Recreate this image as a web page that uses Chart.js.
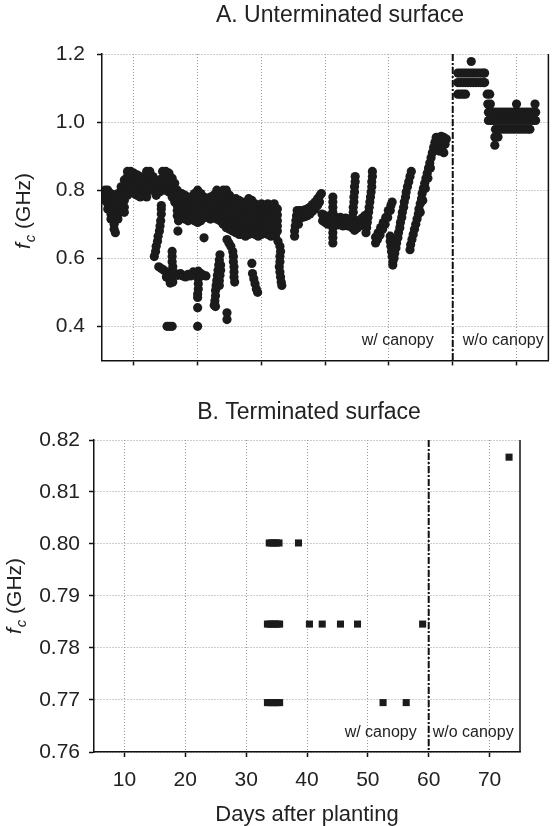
<!DOCTYPE html>
<html>
<head>
<meta charset="utf-8">
<script src="https://cdn.jsdelivr.net/npm/chart.js@4.4.0/dist/chart.umd.min.js"></script>
<style>
  html, body { margin: 0; padding: 0; background: #fff; }
  #wrap { position: relative; width: 553px; height: 826px; }
  .panel { position: absolute; left: 0; width: 553px; }
  #top-panel { top: 0; height: 385px; }
  #bottom-panel { top: 385px; height: 441px; }
</style>
</head>
<body>
<div id="wrap">
  <div class="panel" id="top-panel"><canvas id="unterminated-chart"></canvas></div>
  <div class="panel" id="bottom-panel"><canvas id="terminated-chart"></canvas></div>
</div>
<script>
// tick labels
const dayTicks = [10, 20, 30, 40, 50, 60, 70];
const topFcTicks = [0.4, 0.6, 0.8, 1.0, 1.2];
const termFcTicks = [0.76, 0.77, 0.78, 0.79, 0.80, 0.81, 0.82];
const splitDay = 60; // canopy removed

// A. unterminated, columns of [day, [fc ...]]
const topEarlyCols = [
  [5.5, [0.80, 0.785, 0.77]],
  [5.9, [0.80, 0.78, 0.76, 0.745]],
  [6.4, [0.79, 0.77, 0.75, 0.73, 0.715]],
  [6.9, [0.78, 0.76, 0.74, 0.72, 0.70, 0.685]],
  [7.1, [0.675]],
  [7.5, [0.79, 0.77, 0.75, 0.73, 0.715]],
  [8.0, [0.81, 0.79, 0.77, 0.75, 0.74]],
  [8.5, [0.83, 0.81, 0.79, 0.77, 0.75, 0.735]],
  [9.0, [0.855, 0.84, 0.82, 0.80, 0.785]],
  [9.5, [0.855, 0.84, 0.82, 0.80]],
  [10.0, [0.85, 0.83, 0.81, 0.79]],
  [10.5, [0.845, 0.825, 0.805, 0.785]],
  [11.0, [0.84, 0.82, 0.80, 0.78]],
  [11.5, [0.835, 0.815, 0.80]],
  [12.0, [0.855, 0.835, 0.815, 0.795, 0.78]],
  [12.5, [0.855, 0.835, 0.815, 0.80]],
  [13.0, [0.84, 0.82, 0.80]],
  [13.5, [0.82, 0.80, 0.785]],
  [14.0, [0.83, 0.81, 0.795]],
  [14.5, [0.855, 0.835, 0.815, 0.80]],
  [15.0, [0.855, 0.835, 0.815, 0.80]],
  [15.5, [0.85, 0.83, 0.81, 0.795]],
  [16.0, [0.835, 0.815, 0.795, 0.78]],
  [16.4, [0.82, 0.80, 0.78, 0.765]],
  [16.8, [0.80, 0.785, 0.77, 0.755, 0.74, 0.725]],
  [17.0, [0.71]],
  [16.9, [0.68]]
];

const topMidCols = [
  [17.5, [0.79, 0.772, 0.754, 0.737, 0.72]],
  [18.0, [0.785, 0.765, 0.745, 0.728, 0.715]],
  [18.5, [0.78, 0.76, 0.742, 0.725, 0.71]],
  [19.0, [0.78, 0.762, 0.745, 0.73, 0.72]],
  [19.5, [0.79, 0.77, 0.75, 0.73, 0.71]],
  [20.0, [0.80, 0.78, 0.76, 0.74, 0.722, 0.705]],
  [20.5, [0.79, 0.77, 0.75, 0.73, 0.71]],
  [21.0, [0.78, 0.76, 0.74, 0.72]],
  [21.5, [0.775, 0.757, 0.738, 0.72]],
  [22.0, [0.78, 0.76, 0.74, 0.725, 0.715]],
  [22.5, [0.785, 0.765, 0.745, 0.73, 0.72]],
  [23.0, [0.80, 0.78, 0.76, 0.74, 0.725, 0.715]],
  [23.5, [0.79, 0.77, 0.75, 0.73, 0.71]],
  [24.0, [0.80, 0.78, 0.76, 0.74, 0.72, 0.70]],
  [24.5, [0.80, 0.78, 0.76, 0.74, 0.72, 0.705, 0.69]],
  [25.0, [0.785, 0.765, 0.745, 0.725, 0.705, 0.685]],
  [25.5, [0.77, 0.75, 0.73, 0.71, 0.695, 0.68]],
  [26.0, [0.775, 0.755, 0.735, 0.715, 0.695, 0.675]],
  [26.5, [0.77, 0.75, 0.73, 0.71, 0.69, 0.67]],
  [27.0, [0.765, 0.745, 0.725, 0.705, 0.687, 0.67]],
  [27.5, [0.76, 0.742, 0.722, 0.702, 0.683, 0.665]],
  [28.0, [0.775, 0.755, 0.735, 0.715, 0.69, 0.67]],
  [28.5, [0.77, 0.75, 0.73, 0.71, 0.69, 0.675]],
  [29.0, [0.76, 0.74, 0.72, 0.70, 0.685, 0.67]],
  [29.5, [0.755, 0.737, 0.718, 0.70, 0.682, 0.665]],
  [30.0, [0.76, 0.74, 0.72, 0.70, 0.685, 0.67]],
  [30.5, [0.755, 0.737, 0.718, 0.70, 0.687, 0.675]],
  [31.0, [0.76, 0.74, 0.72, 0.70, 0.685, 0.67]],
  [31.5, [0.755, 0.737, 0.718, 0.70, 0.682, 0.665]],
  [32.0, [0.76, 0.74, 0.72, 0.70, 0.685, 0.67]],
  [32.5, [0.745, 0.727, 0.71, 0.695, 0.68]]
];

// low strings and stray points, [day, fc]
const topLowPairs = [
  [13.2, 0.605], [13.4, 0.62], [13.5, 0.635], [13.7, 0.65], [13.8, 0.665], [14.0, 0.68],
  [14.1, 0.695], [14.2, 0.71], [14.3, 0.73], [14.3, 0.745], [14.3, 0.755],
  [13.9, 0.575], [14.3, 0.57], [14.7, 0.565], [15.1, 0.56], [15.1, 0.545], [15.5, 0.555],
  [15.5, 0.54], [15.7, 0.527], [16.0, 0.62], [16.0, 0.605], [16.0, 0.59], [16.1, 0.575],
  [16.1, 0.56], [16.1, 0.545], [16.1, 0.53], [16.5, 0.555], [16.9, 0.55], [17.3, 0.555],
  [17.7, 0.548], [18.1, 0.545], [18.5, 0.553], [18.9, 0.548], [19.3, 0.56], [19.7, 0.555],
  [20.1, 0.562], [20.5, 0.555], [20.9, 0.55], [21.3, 0.548],
  [20.1, 0.54], [20.1, 0.525], [20.1, 0.51], [20.0, 0.495], [20.0, 0.485], [20.0, 0.455], [20.0, 0.40],
  [15.2, 0.40], [15.6, 0.40], [16.0, 0.40], [21.0, 0.66],
  [23.5, 0.61], [23.4, 0.595], [23.3, 0.58], [23.2, 0.565], [23.1, 0.55], [23.0, 0.535],
  [22.9, 0.52], [22.8, 0.505], [22.8, 0.49], [22.7, 0.475], [22.6, 0.462], [22.8, 0.458],
  [23.6, 0.58], [23.6, 0.565], [23.5, 0.55], [23.4, 0.535], [23.4, 0.52],
  [24.6, 0.44], [24.6, 0.42],
  [24.6, 0.655], [24.9, 0.645], [25.2, 0.635], [25.5, 0.62], [25.6, 0.605], [25.6, 0.59],
  [25.7, 0.575], [25.7, 0.56], [25.7, 0.545], [25.8, 0.53],
  [28.5, 0.585], [28.6, 0.555], [28.8, 0.54], [29.0, 0.525], [29.2, 0.51], [29.4, 0.50],
  [32.2, 0.665], [32.6, 0.65], [32.9, 0.635], [33.0, 0.62], [32.9, 0.605], [32.9, 0.59],
  [32.8, 0.575], [32.9, 0.56], [33.0, 0.545], [33.1, 0.53], [33.2, 0.52]
];

// days 35-60, [day, fc]
const topLatePairs = [
  [35.2, 0.665], [35.2, 0.68], [35.3, 0.695], [35.4, 0.71], [35.5, 0.725], [35.6, 0.74],
  [35.8, 0.70], [35.9, 0.72], [36.0, 0.74], [36.4, 0.72], [36.4, 0.74], [36.8, 0.722],
  [36.8, 0.742], [37.2, 0.725], [37.2, 0.745], [37.6, 0.73], [37.6, 0.75], [38.0, 0.738],
  [38.0, 0.758], [38.4, 0.745], [38.4, 0.765], [38.8, 0.755], [38.8, 0.775], [39.1, 0.765],
  [39.2, 0.785], [39.4, 0.79],
  [39.5, 0.73], [39.6, 0.71], [40.0, 0.725], [40.0, 0.705], [40.4, 0.722], [40.4, 0.70],
  [40.8, 0.725], [40.8, 0.705], [41.6, 0.72], [41.6, 0.70], [42.0, 0.718], [42.0, 0.698],
  [42.4, 0.72], [42.4, 0.70], [42.8, 0.715], [42.8, 0.695], [43.2, 0.718], [43.2, 0.698],
  [43.6, 0.715], [43.6, 0.695], [44.0, 0.71],
  [41.2, 0.78], [41.2, 0.765], [41.2, 0.75], [41.2, 0.735], [41.2, 0.72], [41.2, 0.705],
  [41.2, 0.69], [41.2, 0.675], [41.2, 0.66], [41.2, 0.645],
  [44.7, 0.84], [44.7, 0.825], [44.6, 0.81], [44.6, 0.795], [44.5, 0.78], [44.5, 0.765],
  [44.4, 0.75], [44.4, 0.735], [44.3, 0.72], [44.2, 0.705], [44.2, 0.69],
  [44.6, 0.682], [45.0, 0.688], [45.0, 0.705], [45.4, 0.695], [45.4, 0.712], [45.8, 0.70],
  [45.8, 0.718], [46.2, 0.708], [46.2, 0.725],
  [46.4, 0.675], [46.5, 0.69], [46.6, 0.705], [46.7, 0.72], [46.8, 0.735], [46.9, 0.75],
  [47.0, 0.765], [47.1, 0.78], [47.2, 0.795], [47.3, 0.81], [47.3, 0.825], [47.4, 0.84], [47.4, 0.855],
  [47.9, 0.645], [47.9, 0.662], [48.2, 0.655], [48.3, 0.675], [48.6, 0.668], [48.7, 0.69],
  [49.0, 0.685], [49.1, 0.705], [49.4, 0.70], [49.5, 0.72], [49.8, 0.72], [49.9, 0.74],
  [50.2, 0.74], [50.3, 0.755], [50.5, 0.765],
  [50.2, 0.665], [50.2, 0.65], [50.3, 0.635], [50.4, 0.62], [50.5, 0.605], [50.6, 0.59], [50.6, 0.58],
  [50.8, 0.60], [50.9, 0.615], [51.1, 0.63], [51.2, 0.645], [51.4, 0.66], [51.5, 0.675],
  [51.7, 0.69], [51.8, 0.705], [52.0, 0.72], [52.1, 0.735], [52.3, 0.75], [52.4, 0.765],
  [52.6, 0.78], [52.7, 0.795], [52.9, 0.81], [53.1, 0.825], [53.3, 0.84], [53.5, 0.855],
  [53.3, 0.625], [53.4, 0.64], [53.6, 0.655], [53.8, 0.67], [54.0, 0.685], [54.2, 0.70],
  [54.4, 0.715], [54.6, 0.73], [54.7, 0.745], [54.9, 0.76], [55.1, 0.775], [55.2, 0.79],
  [55.4, 0.805], [55.6, 0.82], [55.8, 0.835], [56.0, 0.85], [56.2, 0.865], [56.4, 0.88],
  [56.6, 0.895], [56.8, 0.91], [57.0, 0.925], [57.2, 0.94], [57.4, 0.955],
  [54.9, 0.735], [55.3, 0.77], [55.7, 0.805], [56.1, 0.835], [56.5, 0.865],
  [57.8, 0.955], [58.2, 0.958], [58.6, 0.955], [59.0, 0.95], [57.6, 0.935], [58.0, 0.935],
  [58.4, 0.938], [58.8, 0.935], [57.9, 0.915], [58.3, 0.918], [58.6, 0.91]
];

// after day 60, rows of [fc, [days ...]]
const topBareRows = [
  [1.178, [62.9]],
  [1.144, [60.8, 61.2, 61.6, 62.0, 62.4, 62.8, 63.2, 63.6, 64.0, 64.4, 64.8, 65.0]],
  [1.116, [60.8, 61.2, 61.6, 62.0, 62.4, 62.8, 63.2, 63.6, 64.0, 64.4, 64.8, 65.0]],
  [1.082, [60.8, 61.2, 61.6, 62.0, 65.4, 65.8]],
  [1.053, [65.5, 65.9, 70.0, 72.9]],
  [1.029, [65.6, 66.0, 66.5, 67.0, 67.5, 68.0, 68.5, 69.0, 69.5, 70.0, 70.5, 71.0, 71.5, 72.0, 72.5, 73.0]],
  [1.005, [65.6, 66.0, 66.5, 67.0, 67.5, 68.0, 68.5, 69.0, 69.5, 70.0, 70.5, 71.0, 71.5, 72.0, 72.5, 73.0]],
  [0.979, [66.7, 67.2, 67.7, 68.2, 68.7, 69.2, 69.7, 70.2, 70.7, 71.2, 71.7, 72.1]],
  [0.956, [66.6, 67.1]],
  [0.932, [66.6]]
];

// B. terminated, rows of [fc, [days ...]]
const termRows = [
  [0.8167, [73.2]],
  [0.8002, [33.8, 34.2, 34.6, 35.0, 35.4, 38.6]],
  [0.7846, [33.5, 33.9, 34.3, 34.7, 35.1, 35.5, 40.4, 42.5, 45.5, 48.3, 59.0]],
  [0.7695, [33.5, 33.9, 34.3, 34.7, 35.1, 35.5, 52.5, 56.3]]
];

function fromCols(cols) {
  let pts = [];
  cols.forEach(c => c[1].forEach(v => pts.push({ x: c[0], y: v })));
  return pts;
}
function fromRows(rows) {
  let pts = [];
  rows.forEach(r => r[1].forEach(d => pts.push({ x: d, y: r[0] })));
  return pts;
}
function fromPairs(pairs) {
  return pairs.map(p => ({ x: p[0], y: p[1] }));
}

const fontFamily = '"Liberation Sans", Arial, Helvetica, sans-serif';
Chart.defaults.font.family = fontFamily;
Chart.defaults.color = '#222';

// right frame, dash-dot split line, canopy labels, panel title, f_c axis title
const panelDecor = {
  id: 'panelDecor',
  afterDatasetsDraw(chart, args, opts) {
    const ctx = chart.ctx;
    const area = chart.chartArea;
    const xs = chart.scales.x.getPixelForValue(splitDay);
    ctx.save();
    ctx.strokeStyle = '#111';
    ctx.lineWidth = 1.5;
    ctx.beginPath();
    ctx.moveTo(area.right, area.top);
    ctx.lineTo(area.right, area.bottom);
    ctx.stroke();

    ctx.lineWidth = 2;
    ctx.setLineDash([7, 2, 2, 2]);
    ctx.beginPath();
    ctx.moveTo(xs, area.top);
    ctx.lineTo(xs, area.bottom);
    ctx.stroke();
    ctx.setLineDash([]);

    ctx.fillStyle = '#222';
    ctx.textBaseline = 'alphabetic';
    ctx.font = '16px ' + fontFamily;
    ctx.textAlign = 'right';
    ctx.fillText('w/ canopy', xs - opts.gapLeft, area.bottom - 15);
    ctx.textAlign = 'left';
    ctx.fillText('w/o canopy', xs + opts.gapRight, area.bottom - 15);

    ctx.font = '23px ' + fontFamily;
    ctx.textAlign = 'center';
    ctx.fillText(opts.title, opts.titleX, opts.titleY);

    // rotated "f_c (GHz)"
    ctx.translate(opts.yTitleX, opts.yTitleY);
    ctx.rotate(-Math.PI / 2);
    ctx.textAlign = 'left';
    const fFont = 'italic 21px ' + fontFamily;
    const cFont = 'italic 15px ' + fontFamily;
    const uFont = '21px ' + fontFamily;
    ctx.font = fFont; const wf = ctx.measureText('f').width;
    ctx.font = cFont; const wc = ctx.measureText('c').width;
    ctx.font = uFont; const wu = ctx.measureText(' (GHz)').width;
    let x0 = -(wf + wc + 1 + wu) / 2;
    ctx.font = fFont; ctx.fillText('f', x0, 0);
    ctx.font = cFont; ctx.fillText('c', x0 + wf + 1, 5);
    ctx.font = uFont; ctx.fillText(' (GHz)', x0 + wf + wc + 1, 0);
    ctx.restore();
  }
};

const gridStyle = { color: '#9a9a9a', lineWidth: 1, tickLength: 5, tickColor: '#111', tickWidth: 1.5 };
const borderStyle = { color: '#111', width: 1.5, dash: [1, 2] };
const dotColor = '#1b1b1b';

new Chart(document.getElementById('unterminated-chart'), {
  type: 'scatter',
  data: {
    datasets: [
      { label: 'w/ canopy', data: fromCols(topEarlyCols).concat(fromCols(topMidCols), fromPairs(topLowPairs), fromPairs(topLatePairs)),
        pointRadius: 4.6, pointBackgroundColor: dotColor, pointBorderWidth: 0 },
      { label: 'w/o canopy', data: fromRows(topBareRows),
        pointRadius: 4.6, pointBackgroundColor: dotColor, pointBorderWidth: 0 }
    ]
  },
  options: {
    animation: false,
    responsive: true,
    maintainAspectRatio: false,
    events: [],
    layout: { padding: { top: 54, right: 3, left: 0, bottom: 0 } },
    plugins: {
      legend: { display: false },
      tooltip: { enabled: false },
      panelDecor: { title: 'A. Unterminated surface', titleX: 340, titleY: 21.5,
                    yTitleX: 30, yTitleY: 211, gapLeft: 19, gapRight: 10 }
    },
    scales: {
      x: {
        type: 'linear', min: 5, max: 75,
        afterBuildTicks: s => { s.ticks = dayTicks.map(v => ({ value: v })); },
        afterFit: s => { s.height = 18; },
        ticks: { display: false },
        grid: gridStyle,
        border: borderStyle
      },
      y: {
        min: 0.3, max: 1.2,
        afterBuildTicks: s => { s.ticks = topFcTicks.map(v => ({ value: v })); },
        afterFit: s => { s.width = 102; },
        ticks: { font: { size: 21 }, padding: 12, color: '#222', callback: v => v.toFixed(1) },
        grid: gridStyle,
        border: borderStyle
      }
    }
  },
  plugins: [panelDecor]
});

new Chart(document.getElementById('terminated-chart'), {
  type: 'scatter',
  data: {
    datasets: [
      { label: 'terminated', data: fromRows(termRows),
        pointStyle: 'rect', pointRadius: 5, pointBackgroundColor: dotColor, pointBorderWidth: 0 }
    ]
  },
  options: {
    animation: false,
    responsive: true,
    maintainAspectRatio: false,
    events: [],
    layout: { padding: { top: 55, right: 33, left: 0, bottom: 0 } },
    plugins: {
      legend: { display: false },
      tooltip: { enabled: false },
      panelDecor: { title: 'B. Terminated surface', titleX: 309, titleY: 33.5,
                    yTitleX: 21, yTitleY: 211, gapLeft: 12, gapRight: 4 }
    },
    scales: {
      x: {
        type: 'linear', min: 5, max: 75,
        afterBuildTicks: s => { s.ticks = dayTicks.map(v => ({ value: v })); },
        afterFit: s => { s.height = 74; },
        ticks: { font: { size: 21 }, padding: 11, color: '#222', maxRotation: 0 },
        title: { display: true, text: 'Days after planting', font: { size: 22, lineHeight: 1 }, padding: 0, color: '#222' },
        grid: gridStyle,
        border: borderStyle
      },
      y: {
        min: 0.76, max: 0.82,
        afterBuildTicks: s => { s.ticks = termFcTicks.map(v => ({ value: v })); },
        afterFit: s => { s.width = 94; },
        ticks: { font: { size: 21 }, padding: 9, color: '#222', callback: v => v.toFixed(2) },
        grid: gridStyle,
        border: borderStyle
      }
    }
  },
  plugins: [panelDecor]
});
</script>
</body>
</html>
